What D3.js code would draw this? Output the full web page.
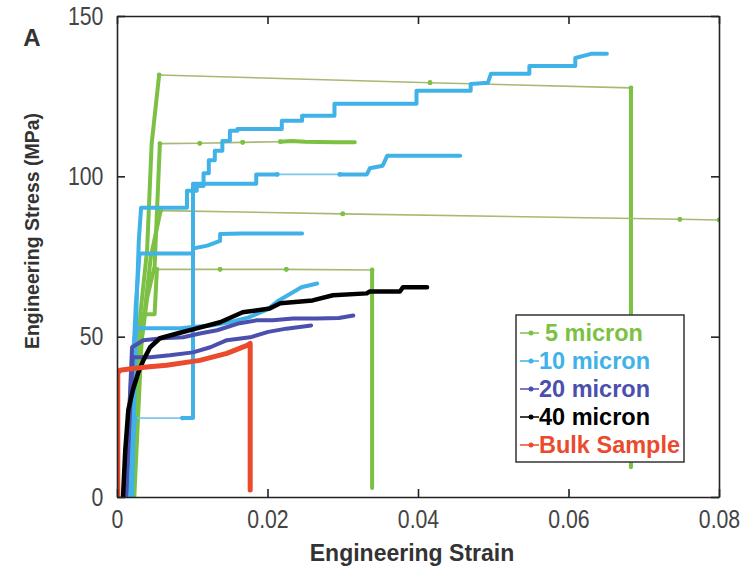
<!DOCTYPE html>
<html>
<head>
<meta charset="utf-8">
<script src="https://cdn.jsdelivr.net/npm/d3@7"></script>
<style>
  body { margin: 0; background: #fff; }
  .axis .domain, .axis line { stroke: #222; stroke-width: 1.6; }
  .axis text { font-family: "Liberation Sans", Arial, sans-serif; font-size: 25px; fill: #444; }
  .title { font-family: "Liberation Sans", Arial, sans-serif; font-weight: bold; fill: #333; }
  .legend text { font-family: "Liberation Sans", Arial, sans-serif; font-weight: bold; font-size: 23.5px; }
</style>
</head>
<body>
<svg id="chart" width="748" height="575"></svg>
<script>
// tick values
const xTicks = [0, 0.02, 0.04, 0.06, 0.08];
const yTicks = [0, 50, 100, 150];

// 5 micron samples [strain, stress MPa]
const micron5a = [[0.0021,0],[0.0027,35],[0.0031,57],[0.0040,77],[0.0046,110],[0.0056,131.6],[0.0416,129.2],[0.0683,127.6],[0.0683,70],[0.0683,9.3]];
const micron5b = [[0.0020,0],[0.0028,40],[0.0040,62],[0.0050,72],[0.0057,110.2],[0.0110,110.3],[0.0167,110.6],[0.0217,110.8],[0.0232,111.0],[0.0250,110.8],[0.0268,110.7],[0.0290,110.6],[0.0316,110.6]];
const micron5c = [[0.0023,0],[0.0033,50],[0.0045,75],[0.0058,89.3],[0.0300,88.3],[0.0748,86.6],[0.0800,86.4]];
const micron5d = [[0.0022,0],[0.0030,40],[0.0034,57],[0.0050,57],[0.0053,71],[0.0137,71],[0.0225,71],[0.0339,70.8],[0.0339,2.8]];

// 10 micron samples
const micron10a = [[0.0020,0],[0.0023,30],[0.0026,60],[0.0029,80],[0.0032,90.2],[0.0062,90.2],[0.0093,90.2],[0.0093,95.5],[0.0106,95.5],[0.0106,97],[0.0115,97],[0.0115,101],[0.0122,101],[0.0122,105],[0.0130,105],[0.0130,108],[0.0140,108],[0.0140,111],[0.0150,111],[0.0150,114.2],[0.0160,114.2],[0.0160,114.8],[0.0190,114.8],[0.0219,114.8],[0.0219,117.3],[0.0246,117.3],[0.0246,118.9],[0.0289,118.9],[0.0289,122.6],[0.0325,122.6],[0.0360,122.6],[0.0398,122.6],[0.0398,126.7],[0.0435,126.7],[0.0470,126.7],[0.0470,128.8],[0.0493,129.2],[0.0497,132],[0.0520,132],[0.0548,132],[0.0548,134.4],[0.0578,134.4],[0.0609,134.4],[0.0609,136.9],[0.0630,138.2],[0.0651,138.2]];
const micron10b = [[0.0016,0],[0.0020,15],[0.0024,24.6],[0.0087,24.6],[0.0101,24.6],[0.0101,97.7],[0.0130,97.7],[0.0160,97.7],[0.0185,97.7],[0.0185,100.6],[0.0213,100.6],[0.0296,100.6],[0.0332,100.6],[0.0336,102.5],[0.0353,103.3],[0.0359,106.4],[0.0392,106.4],[0.0425,106.4],[0.0456,106.4]];
const micron10c = [[0.0015,0],[0.0020,35],[0.0025,60],[0.0030,75.9],[0.0055,75.9],[0.0080,75.9],[0.0101,75.9],[0.0101,77.5],[0.0120,78.4],[0.0137,79.9],[0.0137,82],[0.0165,82.2],[0.0195,82.2],[0.0222,82.2],[0.0246,82.2]];
const micron10d = [[0.0012,0],[0.0017,30],[0.0021,45],[0.0025,52.6],[0.0055,52.6],[0.0085,52.6],[0.0100,53],[0.0125,53.5],[0.0150,54.5],[0.0175,56],[0.0200,58.5],[0.0215,61.3],[0.0235,64],[0.0245,65.4],[0.0266,66.6]];

// 20 micron samples
const micron20a = [[0.0012,0],[0.0016,25],[0.0020,46.7],[0.0035,48.9],[0.0060,49.5],[0.0088,49.8],[0.0110,51],[0.0133,52],[0.0163,54.2],[0.0186,55.1],[0.0207,55.1],[0.0234,55.7],[0.0265,55.7],[0.0295,55.8],[0.0314,56.6]];
const micron20b = [[0.0012,0],[0.0017,25],[0.0021,43.6],[0.0044,43.6],[0.0070,44.2],[0.0101,45.1],[0.0124,46.7],[0.0146,48.9],[0.0177,49.8],[0.0201,51.5],[0.0225,52.5],[0.0258,53.5]];

// 40 micron
const micron40 = [[0.0008,0],[0.0011,14.6],[0.0015,27.1],[0.0021,33.3],[0.0028,38.6],[0.0035,42.6],[0.0044,46.7],[0.0057,49.5],[0.0080,51.0],[0.0106,52.6],[0.0137,54.5],[0.0167,57.6],[0.0203,58.8],[0.0217,60.4],[0.0260,61.3],[0.0287,62.9],[0.0332,63.5],[0.0336,64.1],[0.0376,64.1],[0.0380,65.4],[0.0412,65.4]];

// bulk sample
const bulk = [[0.0001,0],[0.0001,38.6],[0.0004,39.5],[0.0021,40.1],[0.0043,40.6],[0.0066,41.1],[0.0110,42.6],[0.0146,44.8],[0.0173,47.3],[0.0177,47.9],[0.0177,2.2]];

const legendLabels = ["5 micron", "10 micron", "20 micron", "40 micron", "Bulk Sample"];

const groups = [
  { label: legendLabels[0], color: "#7cc143", thin: "#a7b972", width: 4, samples: [micron5a, micron5b, micron5c, micron5d] },
  { label: legendLabels[1], color: "#40b2e8", thin: "#7fc6ea", width: 4, samples: [micron10a, micron10b, micron10c, micron10d] },
  { label: legendLabels[2], color: "#4b4fae", thin: "#7d80c4", width: 4, samples: [micron20a, micron20b] },
  { label: legendLabels[3], color: "#000000", thin: "#333", width: 4.5, samples: [micron40] },
  { label: legendLabels[4], color: "#ec4a2c", thin: "#f07a60", width: 5, samples: [bulk] }
];

const svg = d3.select("#chart");
const x = d3.scaleLinear().domain([0, 0.08]).range([117, 719]);
const y = d3.scaleLinear().domain([0, 150]).range([497, 16]);

svg.append("defs").append("clipPath").attr("id", "plot")
  .append("rect").attr("x", 117).attr("y", 16).attr("width", 602).attr("height", 481);

const plot = svg.append("g").attr("clip-path", "url(#plot)");
const line = d3.line().x(d => x(d[0])).y(d => y(d[1]));

// sparse stretches of the record show up as a thin connecting line with dots
const sparseGap = 0.0047;

groups.forEach(g => {
  g.samples.forEach(s => {
    let run = [s[0]];
    const runs = [], thinSegs = [];
    for (let i = 1; i < s.length; i++) {
      if (s[i][0] - s[i - 1][0] > sparseGap) {
        if (run.length > 1) runs.push(run);
        thinSegs.push([s[i - 1], s[i]]);
        run = [s[i]];
      } else {
        run.push(s[i]);
      }
    }
    if (run.length > 1) runs.push(run);

    thinSegs.forEach(seg => {
      plot.append("path").attr("d", line(seg))
        .attr("fill", "none").attr("stroke", g.thin).attr("stroke-width", 1.6);
      seg.forEach(p => plot.append("circle").attr("cx", x(p[0])).attr("cy", y(p[1]))
        .attr("r", 2.4).attr("fill", g.color));
    });
    runs.forEach(r => {
      plot.append("path").attr("d", line(r))
        .attr("fill", "none").attr("stroke", g.color).attr("stroke-width", g.width)
        .attr("stroke-linejoin", "round").attr("stroke-linecap", "round");
    });
  });
});

// axes, ticks pointing inward on all four sides
const narrow = "scale(0.85,1)";
svg.append("g").attr("class", "axis").attr("transform", "translate(0,497)")
  .call(d3.axisBottom(x).tickValues(xTicks).tickFormat(d => d === 0 ? "0" : d3.format(".2f")(d))
    .tickSizeInner(-8).tickSizeOuter(0).tickPadding(13))
  .selectAll("text").attr("transform", narrow);
svg.append("g").attr("class", "axis").attr("transform", "translate(0,16)")
  .call(d3.axisTop(x).tickValues(xTicks).tickFormat("").tickSizeInner(-8).tickSizeOuter(0));
svg.append("g").attr("class", "axis").attr("transform", "translate(117,0)")
  .call(d3.axisLeft(y).tickValues(yTicks).tickSizeInner(-8).tickSizeOuter(0).tickPadding(16))
  .selectAll("text").attr("transform", narrow);
svg.append("g").attr("class", "axis").attr("transform", "translate(719,0)")
  .call(d3.axisRight(y).tickValues(yTicks).tickFormat("").tickSizeInner(-8).tickSizeOuter(0));

svg.append("text").attr("class", "title").attr("x", 412).attr("y", 561)
  .attr("text-anchor", "middle").attr("font-size", 23).text("Engineering Strain");
svg.append("text").attr("class", "title").attr("transform", "translate(39,231) rotate(-90)")
  .attr("text-anchor", "middle").attr("font-size", 19.5).text("Engineering Stress (MPa)");
svg.append("text").attr("class", "title").attr("x", 32).attr("y", 46)
  .attr("text-anchor", "middle").attr("font-size", 24).attr("fill", "#111").text("A");

// legend
const legend = svg.append("g").attr("class", "legend");
legend.append("rect").attr("x", 516).attr("y", 315).attr("width", 168).attr("height", 147)
  .attr("fill", "#fff").attr("stroke", "#333").attr("stroke-width", 1.5);
groups.forEach((g, i) => {
  const cy = 333 + i * 28;
  legend.append("line").attr("x1", 520).attr("x2", 539).attr("y1", cy).attr("y2", cy)
    .attr("stroke", g.color).attr("stroke-width", 1.5);
  legend.append("circle").attr("cx", 531).attr("cy", cy).attr("r", 2.5).attr("fill", g.color);
  legend.append("text").attr("x", i === 0 ? 545 : 539).attr("y", cy + 8).attr("fill", g.color).text(g.label);
});
</script>
</body>
</html>
